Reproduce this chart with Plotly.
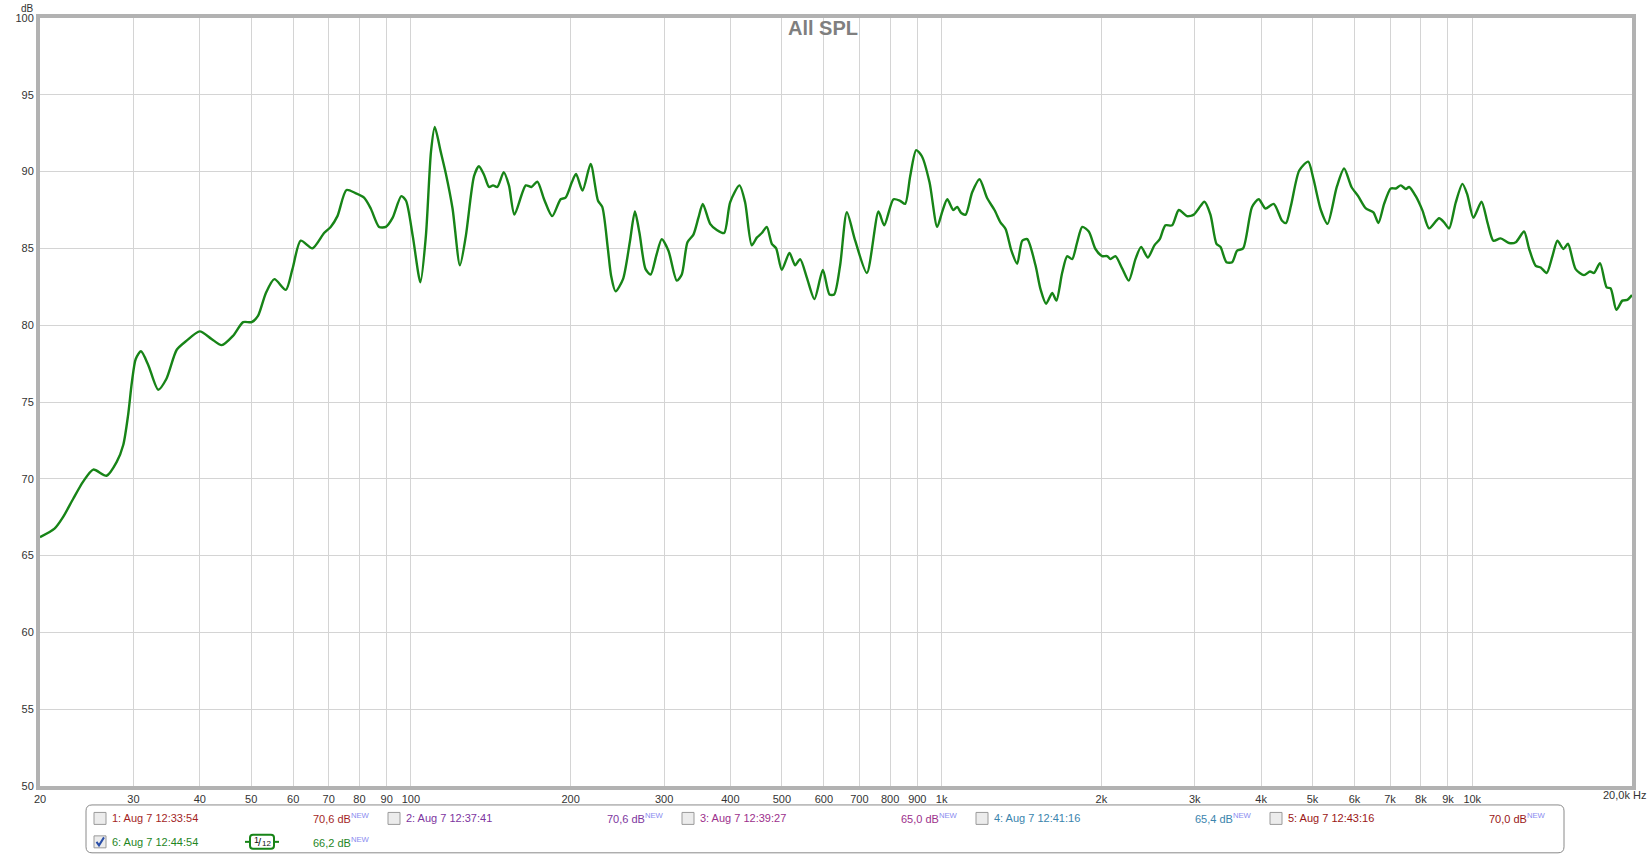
import plotly.graph_objects as go

freq_hz = [
    20, 21.3, 22.1, 23.1, 24.1, 25.2, 26.7, 27.9, 28.7, 29.3, 29.8, 30.3, 31.0, 32.0, 33.4, 34.6,
    36.2, 37.8, 40.0, 42.1, 44.0, 46.2, 48.3, 50.1, 51.5, 53.3, 55.3, 58.1, 59.8, 62.0, 65.2, 68.6,
    70.6, 72.7, 75.6, 78.6, 81.6, 84.0, 87.1, 89.7, 92.4, 95.9, 97.9, 100.8, 104.2, 106.7, 109.1,
    110.9, 113.8, 116.4, 119.8, 123.7, 126.9, 131.5, 134.3, 137.3, 140.3, 142.8, 145.5, 149.6,
    153.0, 156.7, 164.6, 168.7, 173.1, 178.2, 184.6, 191.5, 195.6, 201.0, 204.7, 210.6, 218.1,
    225.2, 229.4, 235.0, 238.4, 243.0, 251.0, 258.5, 264.3, 269.6, 276.8, 283.0, 290.3, 297.0,
    305.7, 317.0, 323.9, 332.0, 340.7, 348.2, 354.8, 366.3, 377.0, 389.2, 399.5, 416.0, 426.3,
    438.8, 448.5, 458.4, 468.4, 478.7, 487.8, 499.9, 516.8, 529.7, 541.3, 557.3, 576.0, 597.4,
    614.9, 627.4, 643.9, 663.0, 687.4, 723.1, 760.5, 779.5, 811.7, 835.4, 853.8, 872.6, 895.6,
    918.0, 949.0, 981, 1003, 1025, 1052, 1070, 1089, 1110, 1142, 1179, 1219, 1258, 1291, 1320,
    1354, 1388, 1419, 1450, 1503, 1536, 1574, 1616, 1646, 1687, 1725, 1762, 1801, 1841, 1894,
    1950, 2007, 2051, 2081, 2126, 2189, 2253, 2319, 2377, 2447, 2518, 2577, 2641, 2719, 2799,
    2901, 2987, 3052, 3128, 3211, 3296, 3354, 3442, 3528, 3605, 3700, 3846, 3959, 4076, 4226,
    4381, 4456, 4555, 4720, 4907, 5022, 5184, 5337, 5555, 5735, 5921, 6095, 6302, 6512, 6655,
    6822, 7022, 7177, 7334, 7494, 7604, 7826, 8059, 8292, 8659, 8850, 9044, 9310, 9584, 9788,
    10050, 10410, 10680, 10960, 11310, 11730, 12080, 12520, 12800, 13170, 13460, 13810, 14160,
    14470, 14850, 15150, 15660, 16240, 16670, 16960, 17410, 17920, 18230, 18690, 19180, 19600,
    20000,
]
spl_db = [
    66.2, 66.75, 67.5, 68.7, 69.8, 70.6, 70.2, 71.1, 72.2, 74.1, 76.3, 77.8, 78.3, 77.4, 75.8, 76.5,
    78.4, 79.0, 79.6, 79.1, 78.7, 79.3, 80.2, 80.2, 80.6, 82.1, 83.0, 82.3, 83.65, 85.5, 85.0, 86.0,
    86.4, 87.1, 88.8, 88.6, 88.3, 87.6, 86.4, 86.4, 87.0, 88.4, 88.1, 85.8, 82.8, 85.8, 91.3,
    92.9, 91.3, 89.85, 87.6, 83.9, 85.8, 89.7, 90.35, 89.8, 89.0, 89.1, 89.0, 89.96,
    89.1, 87.2, 89.1, 89.0, 89.35, 88.2, 87.1, 88.2, 88.3, 89.3, 89.85, 88.76, 90.5,
    88.1, 87.7, 85.0, 83.2, 82.2, 83.0, 85.4, 87.4, 86.0, 83.65, 83.3, 84.6, 85.6,
    84.85, 82.9, 83.3, 85.4, 85.9, 87.0, 87.9, 86.6, 86.2, 86.0, 88.0, 89.1, 88.0,
    85.2, 85.7, 86.0, 86.4, 85.3, 85.0, 83.6, 84.7, 83.9, 84.3, 83.1, 81.7, 83.6,
    82.0, 82.0, 83.9, 87.35, 85.5, 83.4, 87.4, 86.5, 88.2, 88.1, 87.9, 89.7, 91.4,
    91.0, 89.3, 86.4, 87.4, 88.2, 87.5, 87.7, 87.3, 87.2, 88.65, 89.5, 88.26, 87.5, 86.7, 86.26,
    84.85, 84.0, 85.5, 85.6, 83.9, 82.35, 81.4, 82.1, 81.6, 83.4, 84.5, 84.3, 85.4, 86.4, 86.1,
    84.96, 84.5, 84.5, 84.3, 84.5, 83.7, 82.9, 84.3, 85.1, 84.4, 85.2, 85.6, 86.5, 86.5, 87.5,
    87.1, 87.2, 87.6, 88.04, 87.2, 85.3, 85.1, 84.1, 84.1, 84.85, 85.0, 87.7, 88.2, 87.6, 87.9,
    86.8, 86.65, 87.8, 90.07, 90.65, 89.5, 87.5, 86.6, 89.0, 90.2, 89.0, 88.4, 87.6, 87.35, 86.65,
    87.9, 88.9, 88.9, 89.1, 88.87, 89.0, 88.4, 87.46, 86.3, 86.96, 86.7, 86.3, 88.0, 89.2, 88.5,
    87.0, 88.04, 86.7, 85.5, 85.65, 85.35, 85.4, 86.1, 84.96, 83.87, 83.76, 83.4, 84.5,
    85.5, 84.96, 85.3, 83.65, 83.26, 83.5, 83.4, 84.04, 82.46, 82.4, 81.0, 81.6, 81.65,
    81.96,
]

x_tick_vals = [20, 30, 40, 50, 60, 70, 80, 90, 100, 200, 300, 400, 500, 600, 700, 800, 900,
               1000, 2000, 3000, 4000, 5000, 6000, 7000, 8000, 9000, 10000]
x_tick_text = ["20", "30", "40", "50", "60", "70", "80", "90", "100", "200", "300", "400", "500",
               "600", "700", "800", "900", "1k", "2k", "3k", "4k", "5k", "6k", "7k", "8k", "9k", "10k"]
y_tick_vals = [50, 55, 60, 65, 70, 75, 80, 85, 90, 95, 100]

legend_labels = ["1: Aug 7 12:33:54", "2: Aug 7 12:37:41", "3: Aug 7 12:39:27",
                 "4: Aug 7 12:41:16", "5: Aug 7 12:43:16", "6: Aug 7 12:44:54"]
legend_levels = ["70,6", "70,6", "65,0", "65,4", "70,0", "66,2"]
legend_checked = [False, False, False, False, False, True]
legend_colors = ["#a31f1f", "#7d35a0", "#9c2f8c", "#3a84ad", "#9a1616", "#1f861f"]

# body margin is removed after plotting (see post_script), so figure == window
W, H = 1650, 856
ML, MR, MT, MB = 40, 18, 16, 70
PW, PH = W - ML - MR, H - MT - MB
FONT = "Liberation Sans, Arial, sans-serif"
GREEN = "#178417"


def px(xp):
    # window pixel -> paper x
    return (xp - ML) / PW


def py(yp):
    # window pixel -> paper y
    return (H - MB - yp) / PH


def rounded_rect(x0, y0, x1, y1, r):
    pts = [
        f"M {px(x0 + r)},{py(y0)}", f"L {px(x1 - r)},{py(y0)}",
        f"Q {px(x1)},{py(y0)} {px(x1)},{py(y0 + r)}", f"L {px(x1)},{py(y1 - r)}",
        f"Q {px(x1)},{py(y1)} {px(x1 - r)},{py(y1)}", f"L {px(x0 + r)},{py(y1)}",
        f"Q {px(x0)},{py(y1)} {px(x0)},{py(y1 - r)}", f"L {px(x0)},{py(y0 + r)}",
        f"Q {px(x0)},{py(y0)} {px(x0 + r)},{py(y0)}", "Z",
    ]
    return " ".join(pts)


def label(x, y, text, size, color, anchor="left"):
    return dict(xref="paper", yref="paper", x=px(x), y=py(y), xanchor=anchor, yanchor="middle",
                showarrow=False, text=text, font=dict(family=FONT, size=size, color=color))


fig = go.Figure()
fig.add_trace(go.Scatter(
    x=freq_hz, y=spl_db, mode="lines",
    line=dict(color=GREEN, width=2.4, shape="spline", smoothing=0.7),
    hoverinfo="x+y", showlegend=False,
))

shapes = []
annotations = []

# legend frame
shapes.append(dict(type="path", xref="paper", yref="paper",
                   path=rounded_rect(86, 805, 1564, 853, 6),
                   line=dict(color="#8a8a8a", width=1), fillcolor="white", layer="above"))

col_step = 294
for i, (name, lvl, col) in enumerate(zip(legend_labels, legend_levels, legend_colors)):
    row, c = divmod(i, 5)
    cy = 818.5 + row * 23.5
    cx = 100 + c * col_step
    shapes.append(dict(type="rect", xref="paper", yref="paper",
                       x0=px(cx - 6), x1=px(cx + 6), y0=py(cy - 6), y1=py(cy + 6),
                       line=dict(color="#9a9a9a", width=1), fillcolor="#ececec", layer="above"))
    if legend_checked[i]:
        shapes.append(dict(type="path", xref="paper", yref="paper",
                           path=f"M {px(cx - 3.5)},{py(cy)} L {px(cx - 1)},{py(cy + 3.5)} "
                                f"L {px(cx + 4)},{py(cy - 4.5)}",
                           line=dict(color="#2b4fa8", width=2), layer="above"))
    annotations.append(label(cx + 10, cy, name, 11, col))
    annotations.append(label(311 + c * col_step, cy,
                             f"{lvl} dB<sup><span style='color:#8a8af0'>NEW</span></sup>", 11, col))

# 1/12 smoothing badge
shapes.append(dict(type="path", xref="paper", yref="paper",
                   path=rounded_rect(250, 835, 274, 849, 3),
                   line=dict(color=GREEN, width=2), fillcolor="white", layer="above"))
for xa, xb in [(245, 250), (274, 279)]:
    shapes.append(dict(type="line", xref="paper", yref="paper",
                       x0=px(xa), x1=px(xb), y0=py(842), y1=py(842),
                       line=dict(color=GREEN, width=2), layer="above"))
annotations += [
    label(256.5, 840, "1", 9, "#111", "center"),
    label(259.5, 842, "/", 11, "#111", "center"),
    label(266, 844, "12", 8, "#111", "center"),
]

annotations += [
    label(823, 26, "<b>All SPL</b>", 20, "#7f7f7f", "center"),
    label(27, 6, "dB", 10, "#333", "center"),
    label(1648, 795, "20,0k Hz", 11, "#333", "right"),
]

fig.update_layout(
    width=W, height=H,
    margin=dict(l=ML, r=MR, t=MT, b=MB),
    paper_bgcolor="white", plot_bgcolor="white",
    font=dict(family=FONT, size=11, color="#333"),
    shapes=shapes, annotations=annotations,
    xaxis=dict(type="log", range=[1.30103, 4.30103], tickvals=x_tick_vals, ticktext=x_tick_text,
               showgrid=True, gridcolor="#d4d4d4", gridwidth=1, zeroline=False,
               showline=True, mirror=True, linecolor="#b2b2b2", linewidth=4,
               ticks="", tickfont=dict(family=FONT, size=11, color="#333")),
    yaxis=dict(range=[50, 100], tickvals=y_tick_vals,
               showgrid=True, gridcolor="#d4d4d4", gridwidth=1, zeroline=False,
               showline=True, mirror=True, linecolor="#b2b2b2", linewidth=4,
               ticks="", tickfont=dict(family=FONT, size=11, color="#333")),
)

fig.write_html(
    "out.html",
    config={"displayModeBar": False},
    post_script="document.body.style.margin='0';document.body.style.overflow='hidden';",
)
